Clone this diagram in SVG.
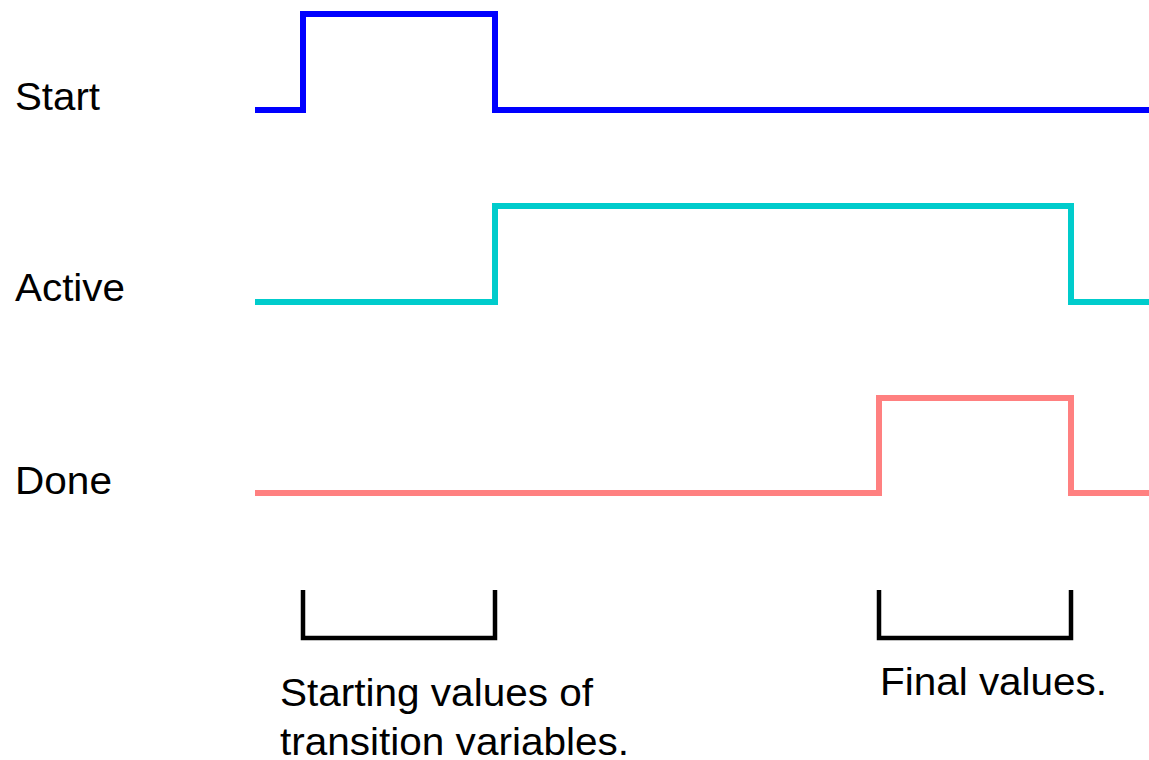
<svg xmlns="http://www.w3.org/2000/svg" width="1149" height="760" viewBox="0 0 1149 760">
<style>
.sig{fill:none;stroke-width:6;stroke-linejoin:miter;stroke-linecap:butt}
.br{fill:none;stroke:#000;stroke-width:4.5}
text{font-family:"Liberation Sans",Arial,sans-serif;font-size:38px;fill:#000}
</style>
<rect width="1149" height="760" fill="#fff"/>
<g id="labels">
<text x="15" y="110" textLength="85" lengthAdjust="spacingAndGlyphs">Start</text>
<text x="15" y="301" textLength="110" lengthAdjust="spacingAndGlyphs">Active</text>
<text x="15" y="494" textLength="97" lengthAdjust="spacingAndGlyphs">Done</text>
</g>
<g id="connectors">
<path id="start" class="sig" stroke="#0000ff" d="M255,110 H303 V14 H495 V110 H1149"/>
<path id="active" class="sig" stroke="#00cccc" d="M255,302 H495 V206 H1071 V302 H1149"/>
<path id="done" class="sig" stroke="#ff8080" d="M255,493 H879 V398 H1071 V493 H1149"/>
</g>
<g id="bracket-start">
<path class="br" d="M303,590 V638 H495 V590"/>
<text x="280" y="706" textLength="313" lengthAdjust="spacingAndGlyphs">Starting values of</text>
<text x="280" y="755" textLength="349" lengthAdjust="spacingAndGlyphs">transition variables.</text>
</g>
<g id="bracket-final">
<path class="br" d="M879,590 V638 H1071 V590"/>
<text x="880" y="695" textLength="227" lengthAdjust="spacingAndGlyphs">Final values.</text>
</g>
</svg>
